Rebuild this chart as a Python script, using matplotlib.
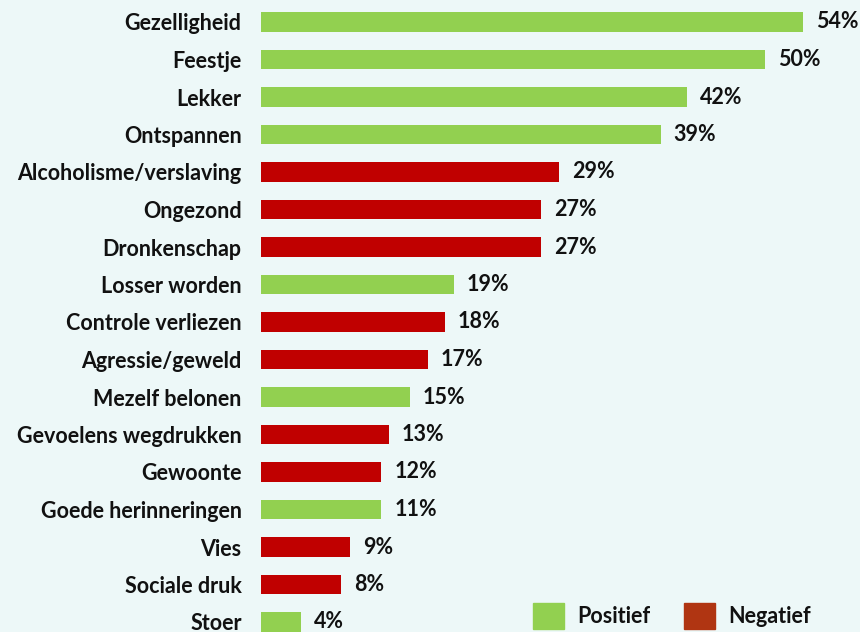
import matplotlib.pyplot as plt
from matplotlib.patches import Patch

# data (van boven naar beneden)
categorieen = ["Gezelligheid", "Feestje", "Lekker", "Ontspannen",
               "Alcoholisme/verslaving", "Ongezond", "Dronkenschap",
               "Losser worden", "Controle verliezen", "Agressie/geweld",
               "Mezelf belonen", "Gevoelens wegdrukken", "Gewoonte",
               "Goede herinneringen", "Vies", "Sociale druk", "Stoer"]
waarden = [54.0, 50.2, 42.4, 39.8, 29.7, 27.9, 27.9, 19.2, 18.3, 16.6,
           14.8, 12.7, 12.0, 12.0, 8.9, 8.0, 4.0]
labels_pct = ["54%", "50%", "42%", "39%", "29%", "27%", "27%", "19%", "18%",
              "17%", "15%", "13%", "12%", "11%", "9%", "8%", "4%"]
soort = ["pos", "pos", "pos", "pos", "neg", "neg", "neg", "pos", "neg", "neg",
         "pos", "neg", "neg", "pos", "neg", "neg", "pos"]

GROEN = "#92D050"
ROOD = "#C00000"
ROOD_LEGENDA = "#B03512"
ACHTERGROND = "#EDF8F8"
TEKST = "#111111"
FS = 15.5

plt.rcParams['font.family'] = ['Lato', 'DejaVu Sans']

fig = plt.figure(figsize=(8.6, 6.32), dpi=100, facecolor=ACHTERGROND)
ax = fig.add_axes([261 / 860, 0, (860 - 261) / 860, 1])
ax.set_facecolor(ACHTERGROND)

kleuren = [GROEN if s == "pos" else ROOD for s in soort]
y = list(range(len(categorieen)))
ax.barh(y, waarden, height=0.51, color=kleuren)

ax.set_xlim(0, (860 - 261) / 10.04)
ax.set_ylim((632 - 22) / 37.5, -22 / 37.5)

ax.set_yticks(y)
ax.set_yticklabels(categorieen, fontsize=FS, fontweight='bold', color=TEKST)
ax.tick_params(axis='y', length=0, pad=14)
ax.set_xticks([])
for s in ax.spines.values():
    s.set_visible(False)

for i, (w, lab) in enumerate(zip(waarden, labels_pct)):
    ax.annotate(lab, (w, i), xytext=(9.5, 0), textcoords='offset points',
                va='center', ha='left', fontsize=FS, fontweight='bold',
                color=TEKST)

handles = [Patch(color=GROEN, label="Positief"),
           Patch(color=ROOD_LEGENDA, label="Negatief")]
leg = fig.legend(handles=handles, loc='center left',
                 bbox_to_anchor=(533 / 860, 16 / 632),
                 ncol=2, frameon=False, prop={'weight': 'bold', 'size': FS},
                 handlelength=1.45, handleheight=1.45, handletextpad=0.6,
                 columnspacing=1.55, borderaxespad=0, borderpad=0)
for t in leg.get_texts():
    t.set_color(TEKST)

fig.savefig("out.png", dpi=100, facecolor=ACHTERGROND)
